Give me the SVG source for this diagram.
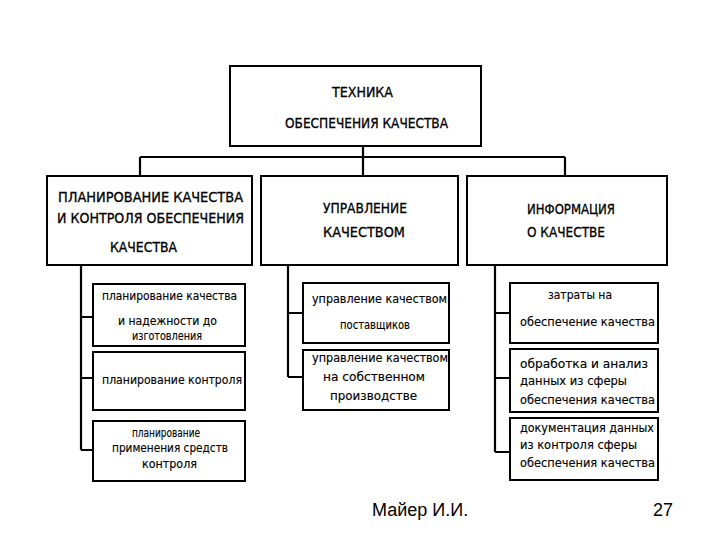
<svg xmlns="http://www.w3.org/2000/svg" width="720" height="540" viewBox="0 0 720 540">
<style>
.box{fill:#fff;stroke:#000;stroke-width:2}
.con{fill:none;stroke:#000;stroke-width:2.2}
.t{font-family:"Liberation Sans Narrow","DejaVu Sans Condensed","Liberation Sans",sans-serif;fill:#000}
.h{font-size:14px;stroke:#000;stroke-width:0.3}
.s{font-size:12.5px;stroke:#000;stroke-width:0.15}
.f{font-family:"Liberation Sans",Arial,sans-serif;font-size:18px;fill:#000}
</style>
<rect width="720" height="540" fill="#fff"/>
<g id="connectors">
<path class="con" d="M363 146V157M140 157H565M140 157V176M363 157V176M565 157V176"/>
<path class="con" d="M81 265V450M81 317H93M81 378H93M81 450H93"/>
<path class="con" d="M288 265V377M288 313H303M288 377H303"/>
<path class="con" d="M495 265V452M495 313H510M495 378H510M495 452H510"/>
</g>
<g id="root">
<rect class="box" x="230" y="66" width="251" height="80"/>
<text class="t h" x="332" y="97" textLength="61" lengthAdjust="spacingAndGlyphs">ТЕХНИКА</text>
<text class="t h" x="285" y="128" textLength="163" lengthAdjust="spacingAndGlyphs">ОБЕСПЕЧЕНИЯ КАЧЕСТВА</text>
</g>
<g id="plan">
<rect class="box" x="47" y="176" width="205" height="89"/>
<text class="t h" x="58" y="202" textLength="185" lengthAdjust="spacingAndGlyphs">ПЛАНИРОВАНИЕ КАЧЕСТВА</text>
<text class="t h" x="57" y="223" textLength="187" lengthAdjust="spacingAndGlyphs">И КОНТРОЛЯ ОБЕСПЕЧЕНИЯ</text>
<text class="t h" x="110" y="252" textLength="67" lengthAdjust="spacingAndGlyphs">КАЧЕСТВА</text>
</g>
<g id="manage">
<rect class="box" x="261" y="176" width="197" height="89"/>
<text class="t h" x="323" y="213" textLength="84" lengthAdjust="spacingAndGlyphs">УПРАВЛЕНИЕ</text>
<text class="t h" x="323" y="237" textLength="82" lengthAdjust="spacingAndGlyphs">КАЧЕСТВОМ</text>
</g>
<g id="info">
<rect class="box" x="467" y="176" width="200" height="89"/>
<text class="t h" x="527" y="214" textLength="88" lengthAdjust="spacingAndGlyphs">ИНФОРМАЦИЯ</text>
<text class="t h" x="527" y="237" textLength="78" lengthAdjust="spacingAndGlyphs">О КАЧЕСТВЕ</text>
</g>
<g id="planA">
<rect class="box" x="93" y="284" width="152" height="62"/>
<text class="t s" x="102" y="300" textLength="135" lengthAdjust="spacingAndGlyphs">планирование качества</text>
<text class="t s" x="118" y="325" textLength="99" lengthAdjust="spacingAndGlyphs">и надежности до</text>
<text class="t s" x="132" y="340" textLength="70" lengthAdjust="spacingAndGlyphs">изготовления</text>
</g>
<g id="planB">
<rect class="box" x="93" y="352" width="152" height="58"/>
<text class="t s" x="102" y="384" textLength="140" lengthAdjust="spacingAndGlyphs">планирование контроля</text>
</g>
<g id="planC">
<rect class="box" x="93" y="421" width="152" height="60"/>
<text class="t s" x="132" y="437" textLength="68" lengthAdjust="spacingAndGlyphs">планирование</text>
<text class="t s" x="112" y="452" textLength="116" lengthAdjust="spacingAndGlyphs">применения средств</text>
<text class="t s" x="142" y="468" textLength="55" lengthAdjust="spacingAndGlyphs">контроля</text>
</g>
<g id="manD">
<rect class="box" x="303" y="283" width="146" height="60"/>
<text class="t s" x="312" y="303" textLength="135" lengthAdjust="spacingAndGlyphs">управление качеством</text>
<text class="t s" x="340" y="329" textLength="70" lengthAdjust="spacingAndGlyphs">поставщиков</text>
</g>
<g id="manE">
<rect class="box" x="303" y="350" width="146" height="60"/>
<text class="t s" x="312" y="362" textLength="136" lengthAdjust="spacingAndGlyphs">управление качеством</text>
<text class="t s" x="323" y="381" textLength="102" lengthAdjust="spacingAndGlyphs">на собственном</text>
<text class="t s" x="330" y="400" textLength="87" lengthAdjust="spacingAndGlyphs">производстве</text>
</g>
<g id="infF">
<rect class="box" x="510" y="283" width="148" height="60"/>
<text class="t s" x="548" y="299" textLength="64" lengthAdjust="spacingAndGlyphs">затраты на</text>
<text class="t s" x="520" y="326" textLength="135" lengthAdjust="spacingAndGlyphs">обеспечение качества</text>
</g>
<g id="infG">
<rect class="box" x="510" y="349" width="148" height="63"/>
<text class="t s" x="520" y="368" textLength="128" lengthAdjust="spacingAndGlyphs">обработка и анализ</text>
<text class="t s" x="520" y="385" textLength="107" lengthAdjust="spacingAndGlyphs">данных из сферы</text>
<text class="t s" x="520" y="404" textLength="135" lengthAdjust="spacingAndGlyphs">обеспечения качества</text>
</g>
<g id="infH">
<rect class="box" x="510" y="418" width="148" height="62"/>
<text class="t s" x="520" y="432" textLength="134" lengthAdjust="spacingAndGlyphs">документация данных</text>
<text class="t s" x="520" y="449" textLength="117" lengthAdjust="spacingAndGlyphs">из контроля сферы</text>
<text class="t s" x="520" y="467" textLength="135" lengthAdjust="spacingAndGlyphs">обеспечения качества</text>
</g>
<g id="footer">
<text class="f" x="372" y="516">Майер И.И.</text>
<text class="f" x="673" y="516" text-anchor="end">27</text>
</g>
</svg>
